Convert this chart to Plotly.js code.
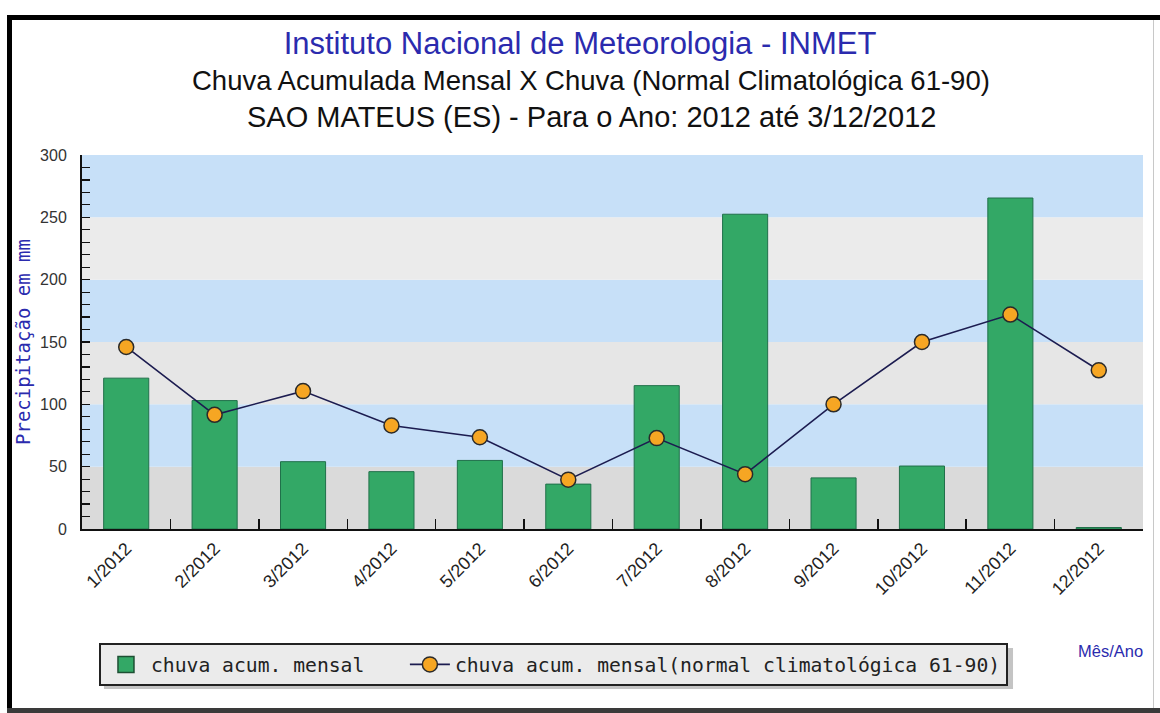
<!DOCTYPE html>
<html>
<head>
<meta charset="utf-8">
<script src="https://cdn.plot.ly/plotly-3.0.1.min.js"></script>
<style>
  html, body { margin: 0; padding: 0; background: #ffffff; }
  #wrap { position: relative; width: 1160px; height: 713px; overflow: hidden; }
  #chart { position: absolute; left: 0; top: 0; width: 1160px; height: 713px; }
  .frame { position: absolute; pointer-events: none; }
</style>
</head>
<body>
<div id="wrap">
  <div id="chart"></div>
  <div class="frame" style="left:7px; top:15px; width:5px; height:698px; background:#000;"></div>
  <div class="frame" style="left:7px; top:15px; width:1153px; height:5px; background:#000;"></div>
  <div class="frame" style="left:7px; top:708px; width:1153px; height:5px; background:#3a3a3a;"></div>
  <div class="frame" style="left:1153px; top:20px; width:1px; height:688px; background:#c8c8c8;"></div>
</div>
<script>
// ---- data ----
const months = ["1/2012","2/2012","3/2012","4/2012","5/2012","6/2012",
                "7/2012","8/2012","9/2012","10/2012","11/2012","12/2012"];
const chuvaMensal = [121, 103, 54, 46, 55, 36, 115, 252.5, 41, 50.5, 265.5, 1.2];
const normal6190 = [146, 91.6, 110.6, 83, 73.6, 39.6, 72.9, 44, 100, 150, 172, 127.3];
const bandEdges = [0, 50, 100, 150, 200, 250, 300];
const bandColors = ["#dadada", "#c7e0f8", "#e6e6e6", "#c7e0f8", "#ebebeb", "#c7e0f8"];

const titleMain = "Instituto Nacional de Meteorologia - INMET";
const titleLine2 = "Chuva Acumulada Mensal X Chuva (Normal Climatológica 61-90)";
const titleLine3 = "SAO MATEUS (ES) - Para o Ano: 2012 até 3/12/2012";
const yTitle = "Precipitação em mm";
const xTitle = "Mês/Ano";
const nameBars = "chuva acum. mensal";
const nameLine = "chuva acum. mensal(normal climatológica 61-90)";

const blue = "#2b2bae";
const green = "#33a866";
const legendGap = "\u00a0\u00a0\u00a0";

const traces = [
  {
    type: "bar", x: months, y: chuvaMensal, name: nameBars,
    width: 0.51, showlegend: false, legendgroup: "b",
    marker: { color: green, line: { color: "#20704a", width: 1 } },
    hoverinfo: "x+y"
  },
  {
    type: "scatter", mode: "markers", x: [null], y: [null], name: nameBars + legendGap,
    legendgroup: "b", showlegend: true,
    marker: { symbol: "square", size: 22, color: green, line: { color: "#1d4f33", width: 1.5 } },
    hoverinfo: "skip"
  },
  {
    type: "scatter", mode: "lines+markers", x: months, y: normal6190, name: nameLine,
    line: { color: "#1c1c50", width: 1.6 },
    marker: { symbol: "circle", size: 15, color: "#f6a623", line: { color: "#2a2a2a", width: 1.5 } },
    hoverinfo: "x+y"
  }
];

const shapes = [];
for (let i = 0; i < bandColors.length; i++) {
  shapes.push({
    type: "rect", xref: "paper", yref: "y", x0: 0, x1: 1,
    y0: bandEdges[i], y1: bandEdges[i + 1],
    fillcolor: bandColors[i], line: { width: 0 }, layer: "below"
  });
}
// legend drop shadow
shapes.push({
  type: "rect", xref: "paper", yref: "paper",
  x0: 0.0207, x1: 0.8775, y0: -0.428, y1: -0.318,
  fillcolor: "#c4c4c4", line: { width: 0 }, layer: "below"
});

const layout = {
  width: 1160, height: 713,
  margin: { l: 82, r: 17, t: 155, b: 184 },
  paper_bgcolor: "#ffffff",
  plot_bgcolor: "rgba(0,0,0,0)",
  font: { family: "Liberation Sans, Arial, sans-serif", color: "#222" },
  title: {
    text: titleMain, x: 0.5, xanchor: "center", y: 0.94, yanchor: "middle", yref: "container",
    font: { family: "Liberation Sans, Arial, sans-serif", size: 31, color: blue }
  },
  showlegend: true,
  legend: {
    orientation: "h", x: 0.016, y: -0.305, xanchor: "left", yanchor: "top",
    bgcolor: "#ebebeb", bordercolor: "#222", borderwidth: 2,
    font: { family: "DejaVu Sans Mono, monospace", size: 19.7, color: "#222" },
    traceorder: "normal", itemwidth: 40
  },
  xaxis: {
    type: "category",
    range: [-0.5, 11.5],
    showline: true, linecolor: "#111", linewidth: 2,
    ticks: "inside", tickson: "boundaries", ticklen: 10, tickwidth: 1.5, tickcolor: "#111",
    tickangle: -45,
    tickfont: { family: "Liberation Sans, Arial, sans-serif", size: 18, color: "#222" },
    showgrid: false, zeroline: false, fixedrange: true
  },
  yaxis: {
    range: [0, 300],
    dtick: 50, tick0: 0,
    showline: true, linecolor: "#111", linewidth: 2,
    ticks: "inside", ticklen: 8, tickwidth: 1.5, tickcolor: "#111",
    minor: { dtick: 10, ticks: "inside", ticklen: 8, tickwidth: 1.2, tickcolor: "#111", showgrid: false },
    tickfont: { family: "Liberation Sans, Arial, sans-serif", size: 16, color: "#333" },
    ticklabelstandoff: 10,
    showgrid: false, zeroline: false, fixedrange: true,
    title: {
      text: yTitle, standoff: 4,
      font: { family: "DejaVu Sans Mono, monospace", size: 19, color: blue }
    }
  },
  shapes: shapes,
  annotations: [
    {
      text: titleLine2, xref: "paper", yref: "paper", x: 0.48, y: 1.2, xanchor: "center", yanchor: "middle",
      showarrow: false, font: { family: "Liberation Sans, Arial, sans-serif", size: 27.5, color: "#111" }
    },
    {
      text: titleLine3, xref: "paper", yref: "paper", x: 0.48, y: 1.101, xanchor: "center", yanchor: "middle",
      showarrow: false, font: { family: "Liberation Sans, Arial, sans-serif", size: 29, color: "#111" }
    },
    {
      text: xTitle, xref: "paper", yref: "paper", x: 1.002, y: -0.326, xanchor: "right", yanchor: "middle",
      showarrow: false, font: { family: "Liberation Sans, Arial, sans-serif", size: 16.5, color: blue }
    }
  ]
};

Plotly.newPlot("chart", traces, layout, { displayModeBar: false, staticPlot: true });
</script>
</body>
</html>
